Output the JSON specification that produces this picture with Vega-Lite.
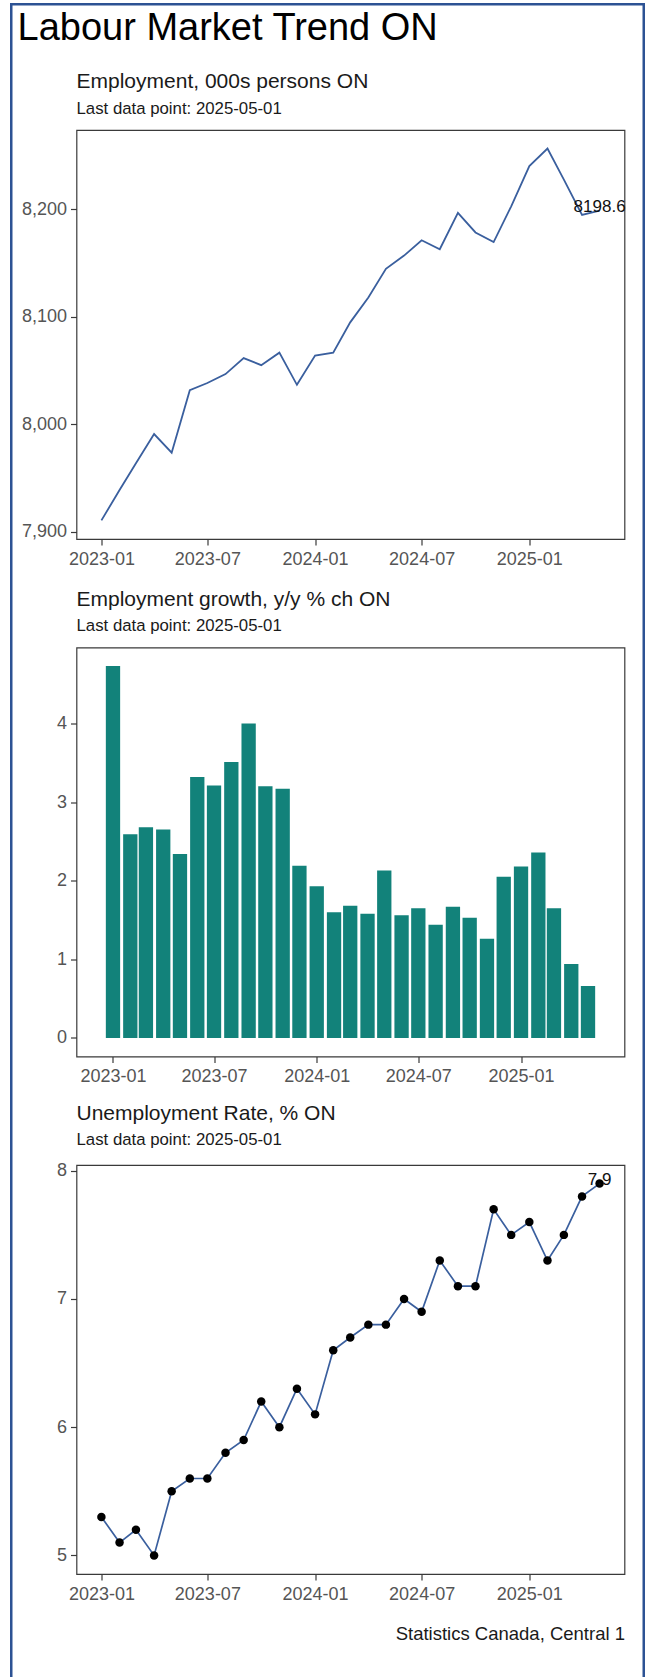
{
  "$schema": "https://vega.github.io/schema/vega-lite/v6.json",
  "background": "white",
  "padding": {"left": 10.5, "top": 4, "right": 0, "bottom": -30},
  "bounds": "flush",
  "spacing": 108.5,
  "title": {"text": "Labour Market Trend ON", "anchor": "start", "frame": "group", "fontSize": 38, "offset": -43.3, "dx": -59, "color": "#000000"},
  "config": {
    "font": "Liberation Sans",
    "view": {"stroke": "#3a3a3a", "strokeWidth": 1.2},
    "axis": {"domain": false, "grid": false, "labelFont": "Liberation Sans", "labelFontSize": 18, "labelColor": "#555555", "tickColor": "#3a3a3a", "tickSize": 6, "tickWidth": 1.2, "labelPadding": 4, "titleFont": "Liberation Sans", "titleFontWeight": "normal"},
    "title": {"font": "Liberation Sans", "fontWeight": "normal", "color": "#1a1a1a", "subtitleFont": "Liberation Sans", "subtitleColor": "#1a1a1a", "subtitleFontWeight": "normal"}
  },
  "datasets": {
    "labour": [
      {"date": "2023-01-01", "emp": 7910.6, "growth": 4.73, "unemp": 5.3},
      {"date": "2023-02-01", "emp": 7938.8, "growth": 2.59, "unemp": 5.1},
      {"date": "2023-03-01", "emp": 7963.7, "growth": 2.68, "unemp": 5.2},
      {"date": "2023-04-01", "emp": 7990.9, "growth": 2.65, "unemp": 5.0},
      {"date": "2023-05-01", "emp": 7973.6, "growth": 2.34, "unemp": 5.5},
      {"date": "2023-06-01", "emp": 8031.7, "growth": 3.32, "unemp": 5.6},
      {"date": "2023-07-01", "emp": 8038.4, "growth": 3.21, "unemp": 5.6},
      {"date": "2023-08-01", "emp": 8046.7, "growth": 3.51, "unemp": 5.8},
      {"date": "2023-09-01", "emp": 8061.6, "growth": 4.00, "unemp": 5.9},
      {"date": "2023-10-01", "emp": 8055.0, "growth": 3.20, "unemp": 6.2},
      {"date": "2023-11-01", "emp": 8066.6, "growth": 3.17, "unemp": 6.0},
      {"date": "2023-12-01", "emp": 8036.7, "growth": 2.19, "unemp": 6.3},
      {"date": "2024-01-01", "emp": 8063.9, "growth": 1.93, "unemp": 6.1},
      {"date": "2024-02-01", "emp": 8066.6, "growth": 1.60, "unemp": 6.6},
      {"date": "2024-03-01", "emp": 8094.8, "growth": 1.68, "unemp": 6.7},
      {"date": "2024-04-01", "emp": 8118.0, "growth": 1.58, "unemp": 6.8},
      {"date": "2024-05-01", "emp": 8144.6, "growth": 2.13, "unemp": 6.8},
      {"date": "2024-06-01", "emp": 8156.9, "growth": 1.56, "unemp": 7.0},
      {"date": "2024-07-01", "emp": 8171.1, "growth": 1.65, "unemp": 6.9},
      {"date": "2024-08-01", "emp": 8162.8, "growth": 1.44, "unemp": 7.3},
      {"date": "2024-09-01", "emp": 8196.7, "growth": 1.67, "unemp": 7.1},
      {"date": "2024-10-01", "emp": 8178.4, "growth": 1.53, "unemp": 7.1},
      {"date": "2024-11-01", "emp": 8169.5, "growth": 1.26, "unemp": 7.7},
      {"date": "2024-12-01", "emp": 8202.7, "growth": 2.05, "unemp": 7.5},
      {"date": "2025-01-01", "emp": 8240.2, "growth": 2.18, "unemp": 7.6},
      {"date": "2025-02-01", "emp": 8256.4, "growth": 2.36, "unemp": 7.3},
      {"date": "2025-03-01", "emp": 8227.5, "growth": 1.65, "unemp": 7.5},
      {"date": "2025-04-01", "emp": 8194.7, "growth": 0.94, "unemp": 7.8},
      {"date": "2025-05-01", "emp": 8198.6, "growth": 0.66, "unemp": 7.9}
    ]
  },
  "vconcat": [
    {
      "width": 548,
      "height": 409,
      "title": {"text": "Employment, 000s persons ON", "subtitle": "Last data point: 2025-05-01", "anchor": "start", "frame": "group", "fontSize": 21, "subtitleFontSize": 16.8, "subtitlePadding": 8.5, "offset": 12.7},
      "data": {"name": "labour"},
      "layer": [
        {
          "mark": {"type": "line", "color": "#3a5f9e", "strokeWidth": 1.8},
          "encoding": {
            "x": {"field": "date", "type": "temporal", "scale": {"type": "utc", "domain": [{"year": 2022, "month": 11, "date": 19, "hours": 10, "minutes": 48, "utc": true}, {"year": 2025, "month": 6, "date": 12, "hours": 13, "minutes": 12, "utc": true}]}, "axis": {"title": null, "format": "%Y-%m", "labelFlush": false, "labelOverlap": false, "labelPadding": 5, "values": [{"year": 2023, "month": 1, "date": 1, "utc": true}, {"year": 2023, "month": 7, "date": 1, "utc": true}, {"year": 2024, "month": 1, "date": 1, "utc": true}, {"year": 2024, "month": 7, "date": 1, "utc": true}, {"year": 2025, "month": 1, "date": 1, "utc": true}]}},
            "y": {"field": "emp", "type": "quantitative", "scale": {"domain": [7893.3, 8273.7], "nice": false, "zero": false}, "axis": {"title": null, "values": [7900, 8000, 8100, 8200], "format": ",d"}}
          }
        },
        {
          "transform": [{"filter": "time(datum.date) === utc(2025, 4, 1)"}],
          "mark": {"type": "text", "fontSize": 17, "align": "center", "baseline": "alphabetic", "dy": 1},
          "encoding": {
            "x": {"field": "date", "type": "temporal"},
            "y": {"field": "emp", "type": "quantitative"},
            "text": {"field": "emp", "type": "quantitative", "format": ".1f"},
            "color": {"field": "emp", "type": "quantitative", "scale": {"range": ["#111111", "#111111"]}, "legend": {"orient": "none", "legendX": -65.25, "legendY": -125.75, "direction": "vertical", "title": null, "values": [], "labelOpacity": 0, "labelFontSize": 1, "padding": 0, "gradientThickness": 632.5, "gradientLength": 1700, "gradientStrokeColor": "#2c5294", "gradientStrokeWidth": 2.5, "encode": {"gradient": {"update": {"fillOpacity": {"value": 0}}}}}}
          }
        }
      ]
    },
    {
      "width": 548,
      "height": 409,
      "title": {"text": "Employment growth, y/y % ch ON", "subtitle": "Last data point: 2025-05-01", "anchor": "start", "frame": "group", "fontSize": 21, "subtitleFontSize": 16.8, "subtitlePadding": 8.5, "offset": 12.7},
      "data": {"name": "labour"},
      "mark": {"type": "bar", "width": 14.3, "color": "#12827a"},
      "encoding": {
        "x": {"field": "date", "type": "temporal", "scale": {"type": "utc", "domain": [{"year": 2022, "month": 11, "date": 5, "hours": 14, "minutes": 10, "utc": true}, {"year": 2025, "month": 6, "date": 26, "hours": 9, "minutes": 50, "utc": true}]}, "axis": {"title": null, "format": "%Y-%m", "labelFlush": false, "labelOverlap": false, "labelPadding": 5, "values": [{"year": 2023, "month": 1, "date": 1, "utc": true}, {"year": 2023, "month": 7, "date": 1, "utc": true}, {"year": 2024, "month": 1, "date": 1, "utc": true}, {"year": 2024, "month": 7, "date": 1, "utc": true}, {"year": 2025, "month": 1, "date": 1, "utc": true}]}},
        "y": {"field": "growth", "type": "quantitative", "scale": {"domain": [-0.2365, 4.9665], "nice": false, "zero": false}, "axis": {"title": null, "values": [0, 1, 2, 3, 4], "format": "d"}}
      }
    },
    {
      "width": 548,
      "height": 409,
      "title": {"text": "Unemployment Rate, % ON", "subtitle": "Last data point: 2025-05-01", "anchor": "start", "frame": "group", "fontSize": 21, "subtitleFontSize": 16.8, "subtitlePadding": 8.5, "offset": 12.7},
      "data": {"name": "labour"},
      "layer": [
        {
          "mark": {"type": "line", "color": "#3a5f9e", "strokeWidth": 1.7},
          "encoding": {
            "x": {"field": "date", "type": "temporal", "scale": {"type": "utc", "domain": [{"year": 2022, "month": 11, "date": 19, "hours": 10, "minutes": 48, "utc": true}, {"year": 2025, "month": 6, "date": 12, "hours": 13, "minutes": 12, "utc": true}]}, "axis": {"title": "Statistics Canada, Central 1", "titleAnchor": "end", "titleFontSize": 18.5, "titleColor": "#1a1a1a", "titlePadding": 21, "format": "%Y-%m", "labelFlush": false, "labelOverlap": false, "labelPadding": 5, "values": [{"year": 2023, "month": 1, "date": 1, "utc": true}, {"year": 2023, "month": 7, "date": 1, "utc": true}, {"year": 2024, "month": 1, "date": 1, "utc": true}, {"year": 2024, "month": 7, "date": 1, "utc": true}, {"year": 2025, "month": 1, "date": 1, "utc": true}]}},
            "y": {"field": "unemp", "type": "quantitative", "scale": {"domain": [4.855, 8.045], "nice": false, "zero": false}, "axis": {"title": null, "values": [5, 6, 7, 8], "format": "d"}}
          }
        },
        {
          "mark": {"type": "point", "filled": true, "color": "#000000", "size": 72, "opacity": 1},
          "encoding": {
            "x": {"field": "date", "type": "temporal"},
            "y": {"field": "unemp", "type": "quantitative"}
          }
        },
        {
          "transform": [{"filter": "time(datum.date) === utc(2025, 4, 1)"}],
          "mark": {"type": "text", "fontSize": 17, "align": "center", "baseline": "alphabetic", "dy": 1, "color": "#111111"},
          "encoding": {
            "x": {"field": "date", "type": "temporal"},
            "y": {"field": "unemp", "type": "quantitative"},
            "text": {"field": "unemp", "type": "quantitative", "format": ".1f"}
          }
        }
      ]
    }
  ]
}
